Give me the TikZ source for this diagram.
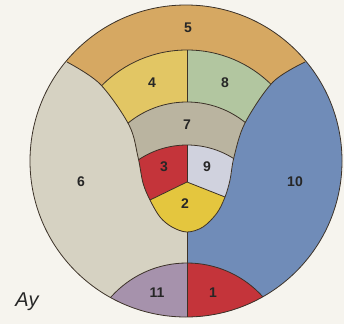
\documentclass[tikz,border=0pt]{standalone}
\usepackage{fontspec}
\setmainfont{Liberation Sans}
\definecolor{bgc}{RGB}{246,244,238}
\definecolor{linec}{RGB}{60,50,40}
\definecolor{cfive}{RGB}{214,168,98}
\definecolor{cfour}{RGB}{226,198,100}
\definecolor{ceight}{RGB}{178,198,160}
\definecolor{cseven}{RGB}{186,180,160}
\definecolor{cthree}{RGB}{196,52,58}
\definecolor{cnine}{RGB}{208,210,222}
\definecolor{ctwo}{RGB}{228,198,62}
\definecolor{csix}{RGB}{214,210,194}
\definecolor{cten}{RGB}{112,140,184}
\definecolor{celeven}{RGB}{166,146,172}
\definecolor{cone}{RGB}{196,52,58}
\tikzset{
  bline/.style={draw=linec, line width=0.8pt, line join=round},
  lbl/.style={font=\fontsize{14}{14}\selectfont\bfseries, text=black!85, inner sep=0pt},
}
\def\Ucurve{plot[smooth,tension=0.55] coordinates {(67,62) (100,84) (129,125) (138,157) (143,183) (150,200) (160,217) (172,227) (187,232) (203,227) (217,213) (225,197) (230,180) (234,157) (245,123) (273,82) (305,62)}}
\def\Ureg{\Ucurve -- (340,30) -- (340,-10) -- (32,-10) -- (32,30) -- cycle}
\begin{document}
\begin{tikzpicture}[x=1pt,y=-1pt]
\useasboundingbox (0,0) rectangle (344,324);
\fill[bgc] (0,0) rectangle (344,324);
\begin{scope}
  \clip (186,161) circle[radius=156];
  \fill[csix] (0,0) rectangle (187,324);
  \fill[cten] (187,0) rectangle (344,324);
  \fill[cfive] \Ureg;
  \begin{scope}
    \clip \Ureg;
    \begin{scope}
      \clip (187,170) circle[radius=120];
      \fill[cfour] (0,0) rectangle (187,324);
      \fill[ceight] (187,0) rectangle (344,324);
    \end{scope}
    \fill[cseven] (187,195) circle[radius=93];
    \begin{scope}
      \clip (187,232) circle[radius=87];
      \fill[cthree] (0,0) rectangle (187,324);
      \fill[cnine] (187,0) rectangle (344,324);
    \end{scope}
    \fill[ctwo] (187,182) -- (113,218) -- (113,260) -- (263,260) -- (263,212) -- cycle;
    \draw[bline] (187,170) circle[radius=120];
    \draw[bline] (187,195) circle[radius=93];
    \draw[bline] (187,232) circle[radius=87];
    \draw[bline] (187,50) -- (187,102);
    \draw[bline] (187,145) -- (187,182);
    \draw[bline] (113,218) -- (187,182) -- (263,212);
  \end{scope}
  \begin{scope}
    \clip (187,365) circle[radius=102];
    \fill[celeven] (0,0) rectangle (187,324);
    \fill[cone] (187,0) rectangle (344,324);
  \end{scope}
  \draw[bline] (187,365) circle[radius=102];
  \draw[bline] (187,232) -- (187,330);
  \draw[bline] \Ucurve;
\end{scope}
\draw[bline] (186,161) circle[radius=156];
% labels
\node[lbl] (l5) at (188,28) {5};
\node[lbl] (l4) at (152,83) {4};
\node[lbl] (l8) at (225,83) {8};
\node[lbl] (l7) at (187,125) {7};
\node[lbl] (l3) at (164,167) {3};
\node[lbl] (l9) at (207,167) {9};
\node[lbl] (l2) at (185,204) {2};
\node[lbl] (l6) at (81,182) {6};
\node[lbl] (l10) at (295,182) {10};
\node[lbl] (l11) at (157,293) {11};
\node[lbl] (l1) at (213,293) {1};
\node[font=\fontsize{20}{20}\selectfont\itshape, inner sep=0pt, text=black!85] (ay) at (27,302) {Ay};
\end{tikzpicture}
\end{document}
